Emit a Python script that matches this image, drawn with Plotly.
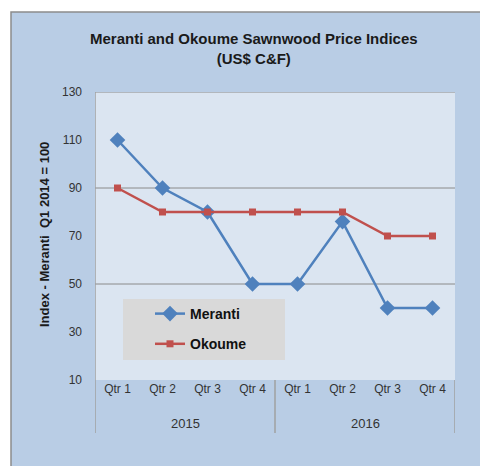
import plotly.graph_objects as go

quarters = ["Qtr 1", "Qtr 2", "Qtr 3", "Qtr 4", "Qtr 1", "Qtr 2", "Qtr 3", "Qtr 4"]
years = ["2015", "2016"]
meranti = [110, 90, 80, 50, 50, 76, 40, 40]
okoume = [90, 80, 80, 80, 80, 80, 70, 70]
y_ticks = [10, 30, 50, 70, 90, 110, 130]
grid_vals = [50, 90, 130]

W, H = 480, 466
L, R, T, B = 95, 25, 92, 86
PW, PH = W - L - R, H - T - B

def px(x):
    return (x - L) / PW

def py(y):
    return (T + PH - y) / PH

xs = list(range(len(quarters)))
FONT = "Liberation Sans"

fig = go.Figure()
fig.add_trace(go.Scatter(x=xs, y=meranti, name="<b>Meranti</b>", mode="lines+markers",
                         line=dict(color="#4f81bd", width=2.5),
                         marker=dict(symbol="diamond", size=12, color="#4f81bd"),
                         legendgroup="a"))
fig.add_trace(go.Scatter(x=xs, y=okoume, name="<b>Okoume</b>", mode="lines+markers",
                         line=dict(color="#c0504d", width=2.5),
                         marker=dict(symbol="square", size=7, color="#c0504d"),
                         legendgroup="b"))

shapes = []
shapes.append(dict(type="rect", xref="paper", yref="paper", x0=px(11), x1=px(495),
                   y0=py(12), y1=py(480), fillcolor="#b9cde5",
                   line=dict(color="#8c8c8c", width=1.5), layer="below"))
shapes.append(dict(type="rect", xref="paper", yref="paper", x0=0, x1=1, y0=0, y1=1,
                   fillcolor="#dbe5f1", line=dict(width=0), layer="below"))
for g in grid_vals:
    shapes.append(dict(type="line", xref="paper", yref="y", x0=0, x1=1, y0=g, y1=g,
                       line=dict(color="#8a8a8a", width=1), layer="below"))
for xv in [-0.5, 3.5, 7.5]:
    shapes.append(dict(type="line", xref="x", yref="paper", x0=xv, x1=xv,
                       y0=py(433), y1=(1 if xv == -0.5 else 0),
                       line=dict(color="#a0a0a0", width=1.5)))
shapes.append(dict(type="rect", xref="paper", yref="paper", x0=px(123), x1=px(285),
                   y0=py(360), y1=py(299), fillcolor="#d9d9d9",
                   line=dict(width=0), layer="below"))

annotations = [
    dict(text="<b>Meranti and Okoume Sawnwood Price Indices<br>(US$ C&F)</b>",
         xref="paper", yref="paper", x=px(254), y=py(49), showarrow=False,
         font=dict(family=FONT, size=15, color="#1a1a1a"), align="center",
         xanchor="center", yanchor="middle"),
    dict(text="<b>Index - Meranti  Q1 2014 = 100</b>", xref="paper", yref="paper",
         x=px(44), y=py(235), textangle=-90, showarrow=False,
         font=dict(family=FONT, size=13, color="#1a1a1a"),
         xanchor="center", yanchor="middle"),
]
for i, yr in enumerate(years):
    annotations.append(dict(text=yr, xref="x", yref="paper", x=1.5 + 4 * i, y=py(423),
                            showarrow=False, font=dict(family=FONT, size=13, color="#333333"),
                            xanchor="center", yanchor="middle"))

fig.update_layout(
    width=W, height=H,
    margin=dict(l=L, r=R, t=T, b=B, pad=0),
    paper_bgcolor="white", plot_bgcolor="rgba(0,0,0,0)",
    showlegend=True,
    legend=dict(x=px(150), y=py(298), xanchor="left", yanchor="top",
                bgcolor="rgba(0,0,0,0)", tracegroupgap=9,
                font=dict(family=FONT, size=14, color="#111111")),
    xaxis=dict(range=[-0.5, 7.5], tickvals=xs, ticktext=quarters, showgrid=False,
               zeroline=False, showline=False, ticks="", ticklen=0,
               tickfont=dict(family=FONT, size=12, color="#333333"), fixedrange=True),
    yaxis=dict(range=[10, 130], tickvals=y_ticks, showgrid=False, zeroline=False,
               showline=False, ticks="", ticklabelstandoff=12,
               tickfont=dict(family=FONT, size=12, color="#333333")),
    shapes=shapes, annotations=annotations,
)
fig.write_html("out.html", config={"displayModeBar": False},
               post_script="document.body.style.margin='0';document.body.style.overflow='hidden';")
